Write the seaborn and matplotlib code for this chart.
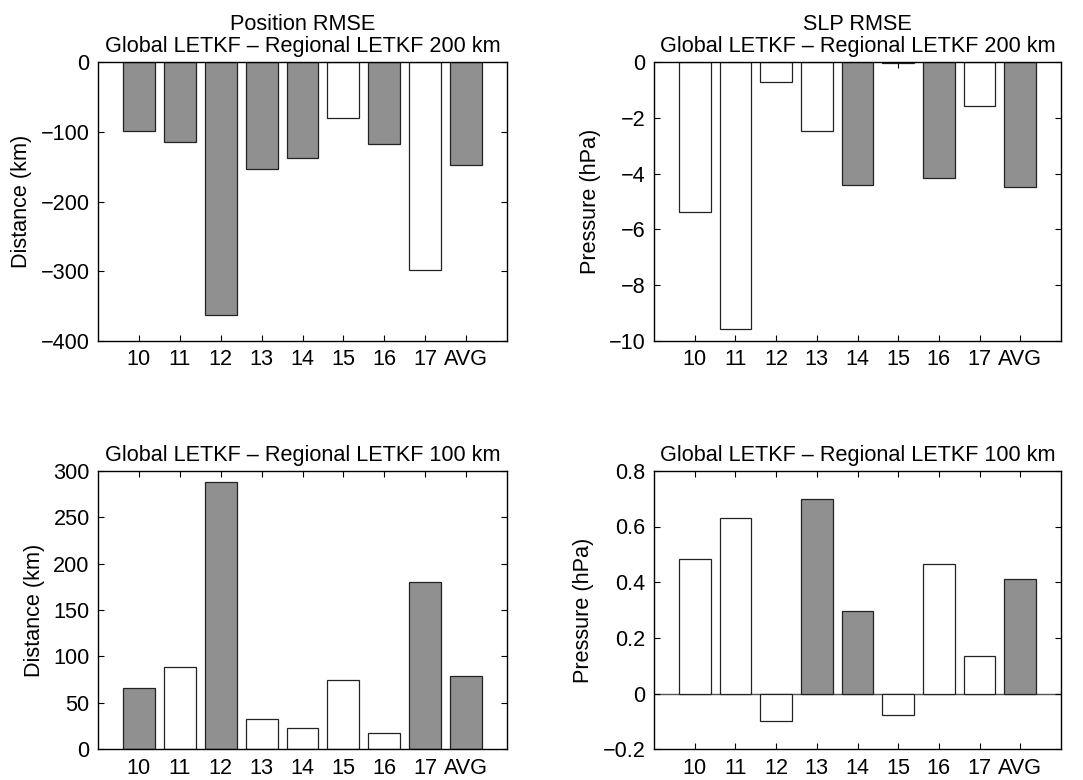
import matplotlib
matplotlib.use("Agg")
import matplotlib.pyplot as plt
import seaborn as sns
import pandas as pd

categories = ["10", "11", "12", "13", "14", "15", "16", "17", "AVG"]

pos_200 = [-99, -114, -362, -153, -138, -80, -117, -298, -147]
pos_200_shade = ["g", "g", "g", "g", "g", "w", "g", "w", "g"]

slp_200 = [-5.37, -9.57, -0.72, -2.46, -4.41, -0.02, -4.15, -1.57, -4.47]
slp_200_shade = ["w", "w", "w", "w", "g", "w", "g", "w", "g"]

pos_100 = [66, 89, 288, 33, 23, 75, 17, 180, 79]
pos_100_shade = ["g", "w", "g", "w", "w", "w", "w", "g", "g"]

slp_100 = [0.483, 0.632, -0.098, 0.697, 0.297, -0.078, 0.464, 0.135, 0.411]
slp_100_shade = ["w", "w", "w", "g", "g", "w", "w", "w", "g"]

titles = ["Position RMSE\nGlobal LETKF \u2013 Regional LETKF 200 km",
          "SLP RMSE\nGlobal LETKF \u2013 Regional LETKF 200 km",
          "Global LETKF \u2013 Regional LETKF 100 km",
          "Global LETKF \u2013 Regional LETKF 100 km"]
ylabels = ["Distance (km)", "Pressure (hPa)", "Distance (km)", "Pressure (hPa)"]
ylims = [(-400, 0), (-10, 0), (0, 300), (-0.2, 0.8)]
yticks = [[-400, -300, -200, -100, 0],
          [-10, -8, -6, -4, -2, 0],
          [0, 50, 100, 150, 200, 250, 300],
          [-0.2, 0, 0.2, 0.4, 0.6, 0.8]]

sns.set_theme(style="ticks")
plt.rcParams["font.family"] = ["Liberation Sans", "DejaVu Sans"]
plt.rcParams["axes.unicode_minus"] = True
plt.rcParams["text.color"] = "black"
plt.rcParams["axes.labelcolor"] = "black"
plt.rcParams["xtick.color"] = "black"
plt.rcParams["ytick.color"] = "black"

FS = 15.6

fig = plt.figure(figsize=(10.83, 7.8), dpi=100)
rects = [[0.0905, 0.5628, 0.3777, 0.3577],
         [0.6039, 0.5628, 0.3758, 0.3577],
         [0.0905, 0.0394, 0.3777, 0.3570],
         [0.6039, 0.0394, 0.3758, 0.3570]]

datasets = [(pos_200, pos_200_shade), (slp_200, slp_200_shade),
            (pos_100, pos_100_shade), (slp_100, slp_100_shade)]
palette = {"g": "#909090", "w": "white"}

for i, (vals, shade) in enumerate(datasets):
    ax = fig.add_axes(rects[i])
    df = pd.DataFrame({"cat": categories, "val": vals, "shade": shade})
    sns.barplot(data=df, x="cat", y="val", hue="shade", palette=palette,
                dodge=False, legend=False, width=0.78, edgecolor="#222222",
                linewidth=0.9, ax=ax, order=categories, saturation=1)
    ax.set_axisbelow(True)
    ax.set_xlim(-1, 9)
    ax.set_ylim(*ylims[i])
    ax.set_yticks(yticks[i])
    if i == 3:
        ax.set_yticklabels(["\u22120.2", "0", "0.2", "0.4", "0.6", "0.8"])
        ax.axhline(0, color="#555555", lw=1.0, zorder=0.5)
    ax.set_xlabel("")
    ax.set_ylabel(ylabels[i], fontsize=FS, labelpad=6, color="black")
    ax.set_title(titles[i], fontsize=FS, pad=7, linespacing=1.05, color="black")
    ax.tick_params(direction="in", length=4, width=0.8, top=True, right=True,
                   labelsize=FS, pad=6, color="black", labelcolor="black")
    for s in ax.spines.values():
        s.set_visible(True)
        s.set_linewidth(1.0)
        s.set_color("black")

fig.savefig("out.png", dpi=100, facecolor="white")
